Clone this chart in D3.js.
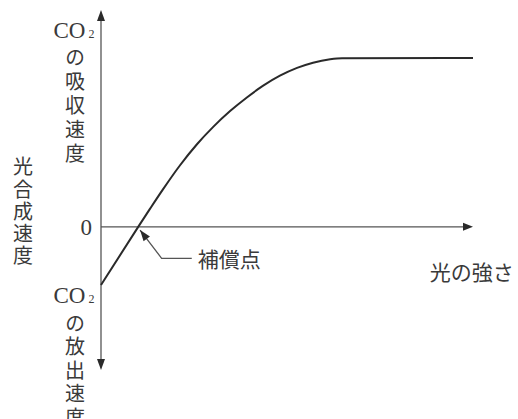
<!DOCTYPE html>
<html>
<head>
<meta charset="utf-8">
<script src="https://cdn.jsdelivr.net/npm/d3@7"></script>
<style>
  body { margin: 0; background: #fff; }
  text { fill: #3a3a3a; }
  .jp { font-family: "Noto Sans CJK JP", sans-serif; font-size: 20px; }
  .vert { writing-mode: vertical-rl; text-orientation: upright; }
  .num { font-family: "Liberation Serif", serif; }
</style>
</head>
<body>
<div id="chart"></div>
<script>
// light intensity (arbitrary units) vs. rate of photosynthesis (CO2 uptake)
var lightIntensity = [0, 10, 13.2, 16.7, 21.2, 25.8, 30.1, 34.7, 39.3, 43.6, 48.1, 52.7, 57, 61.6, 64.8, 100];
var photoRate      = [-2.68, 0, 0.84, 1.74, 2.83, 3.81, 4.6, 5.34, 5.98, 6.51, 6.97, 7.33, 7.57, 7.73, 7.78, 7.79];

var yTickValues = [0];
var yTickLabels = ["0"];

var upperLabel = "の吸収速度";
var lowerLabel = "の放出速度";
var sideLabel  = "光合成速度";
var xLabel = "光の強さ";
var pointLabel = "補償点";

var svgWidth = 518;
var svgHeight = 419;

var svg = d3.select("#chart")
  .append("svg")
  .attr("width", svgWidth)
  .attr("height", svgHeight);

var x = d3.scaleLinear().domain([0, 100]).range([101, 473]);
var y = d3.scaleLinear().domain([-6.6, 10]).range([370, 10]);

var ink = "#2a2a2a";
var axisInk = "#555";

// arrowhead helper: tip point and direction
function arrowHead(tx, ty, dx, dy, len, half) {
  var n = Math.sqrt(dx * dx + dy * dy);
  var ux = dx / n, uy = dy / n;
  var bx = tx - ux * len, by = ty - uy * len;
  return "M" + tx + "," + ty +
    "L" + (bx - uy * half) + "," + (by + ux * half) +
    "L" + (bx + uy * half) + "," + (by - ux * half) + "Z";
}

var x0 = x(0), y0 = y(0);
var yTop = y(10), yBottom = y(-6.6), xRight = x(100);

// axes
svg.append("line")
  .attr("x1", x0).attr("x2", x0)
  .attr("y1", yTop + 8).attr("y2", yBottom - 8)
  .attr("stroke", axisInk).attr("stroke-width", 1.3);
svg.append("line")
  .attr("x1", x0).attr("x2", xRight - 8)
  .attr("y1", y0).attr("y2", y0)
  .attr("stroke", axisInk).attr("stroke-width", 1.3);

svg.append("path").attr("d", arrowHead(x0, yTop, 0, -1, 11, 4)).attr("fill", ink);
svg.append("path").attr("d", arrowHead(x0, yBottom, 0, 1, 11, 4)).attr("fill", ink);
svg.append("path").attr("d", arrowHead(xRight, y0, 1, 0, 10, 4)).attr("fill", ink);

// "0" tick label through d3 axis
var yAxis = d3.axisLeft(y)
  .tickValues(yTickValues)
  .tickFormat(function(d, i) { return yTickLabels[i]; })
  .tickSize(0)
  .tickPadding(9);

var yAxisG = svg.append("g")
  .attr("transform", "translate(" + x0 + ",0)")
  .call(yAxis);
yAxisG.select(".domain").remove();
yAxisG.selectAll("text")
  .style("font-size", "23px")
  .style("font-family", "Liberation Serif, serif")
  .attr("fill", "#3a3a3a");

// curve
var points = lightIntensity.map(function(v, i) { return [v, photoRate[i]]; });

var line = d3.line()
  .x(function(d) { return x(d[0]); })
  .y(function(d) { return y(d[1]); })
  .curve(d3.curveMonotoneX);

svg.append("path")
  .datum(points)
  .attr("d", line)
  .attr("fill", "none")
  .attr("stroke", ink)
  .attr("stroke-width", 2);

// CO2 label helper
function co2(cx, cy) {
  var t = svg.append("text")
    .attr("class", "num")
    .attr("x", cx)
    .attr("y", cy)
    .attr("text-anchor", "middle")
    .style("font-size", "23px");
  t.append("tspan").text("CO");
  t.append("tspan").text("2").style("font-size", "12px").attr("dx", 3);
}

// vertical text column
function column(str, cx, topY, spacing) {
  svg.append("text")
    .attr("class", "jp vert")
    .attr("x", cx)
    .attr("y", topY)
    .style("letter-spacing", spacing + "px")
    .text(str);
}

// upper label: CO2 uptake rate
co2(x0 - 27, yTop + 28);
column(upperLabel, x0 - 26, yTop + 37, 4);

// lower label: CO2 release rate
co2(x0 - 27, yBottom - 67);
column(lowerLabel, x0 - 26, yBottom - 57, 3.5);

// side label
column(sideLabel, 23, y0 - 70, 2.2);

// x label
svg.append("text")
  .attr("class", "jp")
  .attr("x", x(88.4))
  .attr("y", y0 + 44)
  .attr("dominant-baseline", "central")
  .style("font-size", "21px")
  .text(xLabel);

// compensation point pointer
var tip = [10.5, -0.15], elbow = [16.3, -1.45], tail = [24.4, -1.45];
svg.append("path")
  .attr("d", "M" + x(tip[0]) + "," + y(tip[1]) +
             "L" + x(elbow[0]) + "," + y(elbow[1]) +
             "L" + x(tail[0]) + "," + y(tail[1]))
  .attr("fill", "none")
  .attr("stroke", axisInk)
  .attr("stroke-width", 1.3);
svg.append("path")
  .attr("d", arrowHead(x(tip[0]), y(tip[1]),
    x(tip[0]) - x(elbow[0]), y(tip[1]) - y(elbow[1]), 11, 4))
  .attr("fill", ink);

svg.append("text")
  .attr("class", "jp")
  .attr("x", x(26))
  .attr("y", y(-1.45))
  .attr("dominant-baseline", "central")
  .style("font-size", "21px")
  .text(pointLabel);
</script>
</body>
</html>
